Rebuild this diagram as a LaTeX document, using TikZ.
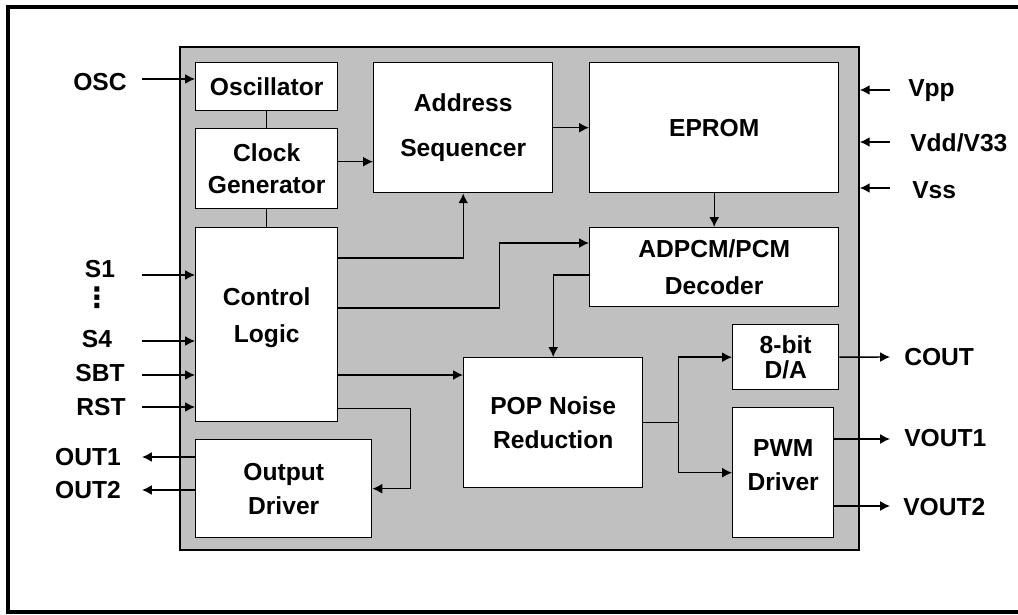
\documentclass[tikz,border=0pt]{standalone}
\usepackage{fontspec}
\setmainfont{Liberation Sans}
\newfontfamily\symfont{DejaVu Sans}
\usepackage{tikz}
\usetikzlibrary{arrows.meta}

\definecolor{chipgray}{RGB}{192,192,192}

\tikzset{
  blk/.style={draw, fill=white, line width=1pt, anchor=north west, align=center, inner sep=0pt},
  pinlabel/.style={inner sep=0pt},
  wire/.style={line width=1pt},
}

\begin{document}
\begin{tikzpicture}[x=0.025cm, y=-0.025cm, >={Latex[length=7pt,width=7pt]},
  font=\fontsize{17.5}{24}\selectfont\bfseries]
				\useasboundingbox (0,0) rectangle (1018,615);

				% frame and chip
				\draw [line width=2.2pt] (1018,7) -- (8,7) -- (8,612) -- (1018,612);
				\node [draw, fill=chipgray, line width=1.3pt, anchor=north west, minimum width=679*0.025cm, minimum height=503*0.025cm, inner sep=0pt] (chip) at (179,46) {};

				% blocks
				\node [blk, minimum width=142*0.025cm, minimum height=48*0.025cm] (osc) at (195,62) {Oscillator};
				\node [blk, minimum width=142*0.025cm, minimum height=80*0.025cm] (clk) at (195,128) {Clock\\[-1pt]Generator};
				\node [blk, minimum width=142*0.025cm, minimum height=194*0.025cm] (ctl) at (195,227) {Control\\[2pt]Logic\\[-10pt]};
				\node [blk, minimum width=179*0.025cm, minimum height=130*0.025cm] (seq) at (373,62) {Address\\[8pt]Sequencer};
				\node [blk, minimum width=249*0.025cm, minimum height=130*0.025cm] (rom) at (589,62) {EPROM};
				\node [blk, minimum width=249*0.025cm, minimum height=79*0.025cm] (dec) at (589,227) {ADPCM/PCM\\[2pt]Decoder};
				\node [blk, minimum width=179*0.025cm, minimum height=130*0.025cm] (pop) at (463,357) {POP Noise\\Reduction};
				\node [blk, minimum width=106*0.025cm, minimum height=65*0.025cm] (da) at (732,324) {8-bit\\[-6pt]D/A};
				\node [blk, minimum width=101*0.025cm, minimum height=130*0.025cm] (pwm) at (732,407) {PWM\\Driver\\[-13pt]};
				\node [blk, minimum width=176*0.025cm, minimum height=98*0.025cm] (drv) at (195,439) {Output\\Driver};

				% pins
				\node [pinlabel] (lOSC) at (100,82) {OSC};
				\node [pinlabel] (lS1) at (100,269) {S1};
				\node [pinlabel, font=\symfont\fontsize{20}{20}\selectfont\bfseries] (ldots) at (97,298) {⋮};
				\node [pinlabel] (lS4) at (97,339) {S4};
				\node [pinlabel] (lSBT) at (100,373) {SBT};
				\node [pinlabel] (lRST) at (101,407) {RST};
				\node [pinlabel] (lOUT1) at (88,457) {OUT1};
				\node [pinlabel] (lOUT2) at (88,490) {OUT2};
				\node [pinlabel, anchor=west] (lVpp) at (908,91) {Vpp};
				\node [pinlabel, anchor=west] (lVdd) at (910,143) {Vdd/V33};
				\node [pinlabel, anchor=west] (lVss) at (912,190) {Vss};
				\node [pinlabel, anchor=west] (lCOUT) at (904,357) {COUT};
				\node [pinlabel, anchor=west] (lVOUT1) at (904,438) {VOUT1};
				\node [pinlabel, anchor=west] (lVOUT2) at (903,507) {VOUT2};

				\coordinate (pOSC) at (142,79);
				\coordinate (pS1) at (142,275);
				\coordinate (pS4) at (142,341);
				\coordinate (pSBT) at (142,375);
				\coordinate (pRST) at (142,407);
				\coordinate (pOUT1) at (142,457);
				\coordinate (pOUT2) at (142,490);
				\coordinate (pVpp) at (890,90);
				\coordinate (pVdd) at (890,142);
				\coordinate (pVss) at (890,188);
				\coordinate (pCOUT) at (890,357);
				\coordinate (pVOUT1) at (890,439);
				\coordinate (pVOUT2) at (890,506);

				\foreach \p in {pOSC} \draw [wire, ->] (\p) -- (\p -| osc.west);
				\foreach \p in {pS1,pS4,pSBT,pRST} \draw [wire, ->] (\p) -- (\p -| ctl.west);
				\foreach \p in {pOUT1,pOUT2} \draw [wire, ->] (\p -| drv.west) -- (\p);
				\foreach \p in {pVpp,pVdd,pVss} \draw [wire, ->] (\p) -- (\p -| chip.east);
				\draw [wire, ->] (da.east) -- (pCOUT);
				\foreach \p in {pVOUT1,pVOUT2} \draw [wire, ->] (\p -| pwm.east) -- (\p);

				% internal connections
				\draw [wire] (osc) -- (clk);
				\draw [wire] (clk) -- (ctl);
				\draw [wire, ->] ([yshift=0.175cm]clk.east) -- ([yshift=0.175cm]clk.east -| seq.west);
				\draw [wire, ->] (seq.east |- rom.west) -- (rom.west);
				\draw [wire, ->] (rom) -- (dec);
				\draw [wire, ->] ([yshift=-0.775cm]ctl.north east) -| (seq.south);
				\draw [wire, ->] ([yshift=-2.025cm]ctl.north east) -- ++(161,0) |- ([yshift=-0.4cm]dec.north west);
				\draw [wire, ->] ([yshift=-1.2cm]dec.north west) -| (pop.north);
				\coordinate (popin) at ([yshift=-0.45cm]pop.north west);
				\draw [wire, ->] (ctl.east |- popin) -- (popin);
				\draw [wire, ->] ([yshift=0.35cm]ctl.south east) -- ++(72,0) |- (drv.east);
				\draw [wire] (pop.east) -- ++(35,0) coordinate (split);
				\draw [wire, ->] (split) |- (da.west);
				\draw [wire, ->] (split) |- (pwm.west);
\end{tikzpicture}
\end{document}
